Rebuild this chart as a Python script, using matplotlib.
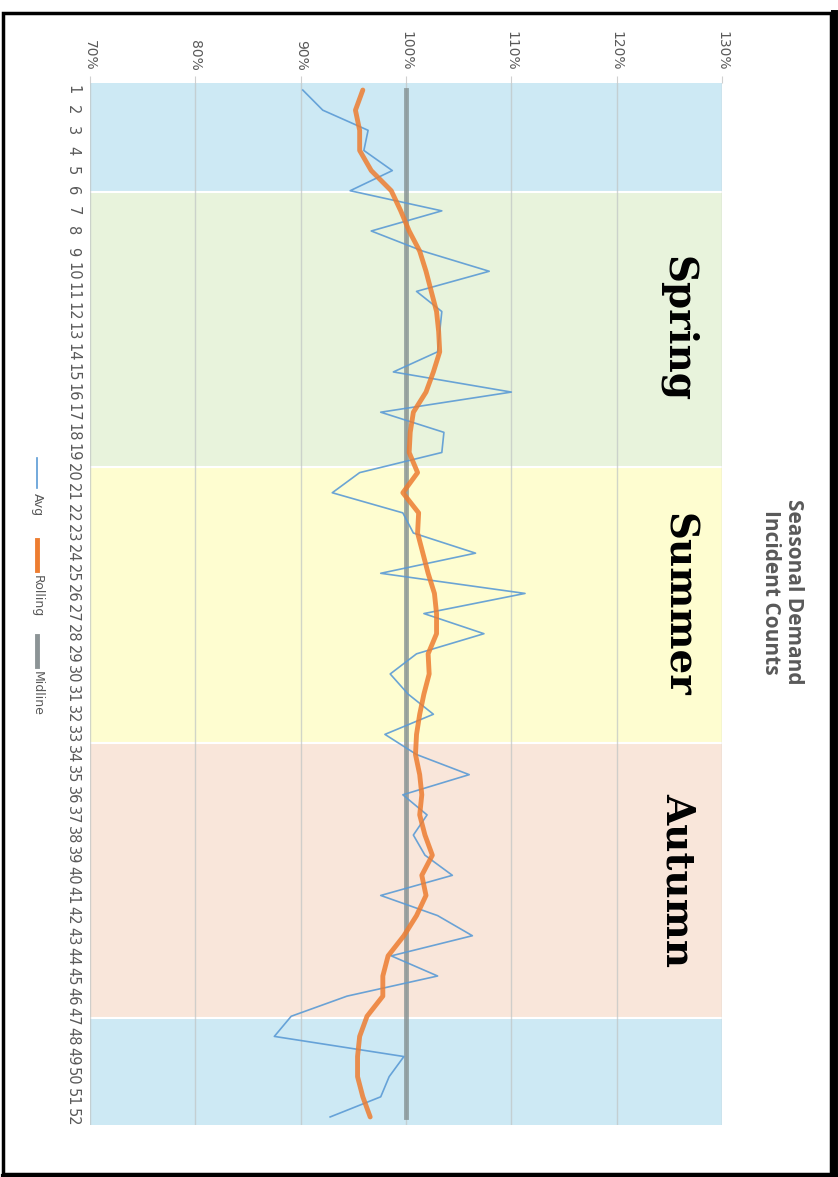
import matplotlib
matplotlib.use("Agg")
import matplotlib.pyplot as plt
from matplotlib.lines import Line2D
from matplotlib.patches import Rectangle

# weekly values, % of average demand
weeks = list(range(1, 53))
avg = [90.2, 92.1, 96.4, 96.0, 98.7, 94.7, 103.4, 96.7, 101.6, 107.9,
       101.0, 103.4, 103.2, 103.0, 98.8, 110.0, 97.6, 103.6, 103.4, 95.6,
       93.0, 99.7, 100.7, 106.6, 97.6, 111.3, 101.7, 107.4, 101.0, 98.5,
       100.2, 102.6, 98.0, 101.0, 106.0, 99.7, 102.0, 100.7, 101.8, 104.4,
       97.6, 103.0, 106.3, 98.6, 103.0, 94.4, 89.1, 87.5, 99.8, 98.4,
       97.6, 92.8]
rolling = [95.9, 95.2, 95.6, 95.6, 96.7, 98.6, 99.5, 100.3, 101.3, 101.9,
           102.4, 102.9, 103.1, 103.2, 102.6, 101.9, 100.7, 100.4, 100.3, 101.1,
           99.7, 101.2, 101.1, 101.6, 102.1, 102.7, 102.9, 102.9, 102.1, 102.2,
           101.7, 101.3, 101.0, 100.9, 101.3, 101.5, 101.3, 101.8, 102.5, 101.5,
           101.9, 101.0, 99.8, 98.3, 97.8, 97.8, 96.3, 95.6, 95.4, 95.4,
           95.9, 96.6]
midline = [100] * 52

season_edges = [0.65, 6.05, 19.72, 33.42, 47.08, 52.4]
season_colors = ["#cde9f4", "#e8f3dc", "#fefdd0", "#f9e6da", "#cde9f4"]
season_names = ["", "Spring", "Summer", "Autumn", ""]
pct_ticks = [70, 80, 90, 100, 110, 120, 130]

W, H = 838, 1177
fig = plt.figure(figsize=(W / 100, H / 100), dpi=100)
ax = fig.add_axes([90 / W, 1 - 1125 / H, 632 / W, 1042 / H])

for i in range(len(season_colors)):
    ax.axhspan(season_edges[i], season_edges[i + 1], color=season_colors[i], lw=0, zorder=0)
    if season_names[i]:
        ax.text(125.8, (season_edges[i] + season_edges[i + 1]) / 2, season_names[i],
                rotation=-90, ha="center", va="center", fontsize=28, fontweight="bold",
                family="DejaVu Serif", color="black", zorder=5)
for e in season_edges[1:-1]:
    ax.axhline(e, color="white", lw=1.5, zorder=1)

for p in pct_ticks:
    ax.axvline(p, color="#bfc4c4", lw=1, alpha=0.7, zorder=1)

ax.plot(midline, weeks, color="#7f8c8d", lw=3.5, alpha=0.75, zorder=2)
ax.plot(avg, weeks, color="#5b9bd5", lw=1.2, alpha=0.9, zorder=3)
ax.plot(rolling, weeks, color="#ed7d31", lw=3.5, alpha=0.85, zorder=4,
        solid_capstyle="round")

ax.set_xlim(70, 130)
ax.set_ylim(52.4, 0.65)
ax.xaxis.tick_top()
ax.set_xticks(pct_ticks)
ax.set_xticklabels([f"{p}%" for p in pct_ticks], rotation=-90, fontsize=10, color="#595959")
ax.set_yticks(weeks)
ax.set_yticklabels([str(w) for w in weeks], rotation=-90, fontsize=10.5, color="#595959",
                   va="center")
ax.tick_params(axis="x", length=5, color="#d0d0d0", pad=4)
ax.tick_params(axis="y", length=0, pad=7)
for s in ax.spines.values():
    s.set_visible(False)

# title (rotated with the chart)
fig.text(782 / W, 1 - 592 / H, "Seasonal Demand\nIncident Counts", rotation=-90,
         ha="center", va="center", fontsize=15, fontweight="bold", color="#595959",
         family="Open Sans", linespacing=1.1, multialignment="center")

# legend, drawn by hand since it is rotated
leg = [("Avg", "#5b9bd5", 1.2, 458, 493), ("Rolling", "#ed7d31", 3.5, 540, 575),
       ("Midline", "#8c9496", 3.5, 636, 671)]
for name, col, lw, y0, yt in leg:
    fig.add_artist(Line2D([37 / W, 37 / W], [1 - y0 / H, 1 - (y0 + 30) / H],
                          color=col, lw=lw, transform=fig.transFigure))
    fig.text(37 / W, 1 - yt / H, name, rotation=-90, ha="center", va="top",
             fontsize=9, color="#595959")

# page border
fig.add_artist(Rectangle((3 / W, 1 - 1174 / H), 828 / W, 1161 / H, fill=False,
                         ec="black", lw=2.5, transform=fig.transFigure))
fig.add_artist(Line2D([834 / W, 834 / W], [0, 1 - 13 / H], color="black", lw=5,
                      transform=fig.transFigure))
fig.add_artist(Line2D([3 / W, 1], [1 - 1175.5 / H, 1 - 1175.5 / H], color="black", lw=3,
                      transform=fig.transFigure))

fig.savefig("out.png", dpi=100)
